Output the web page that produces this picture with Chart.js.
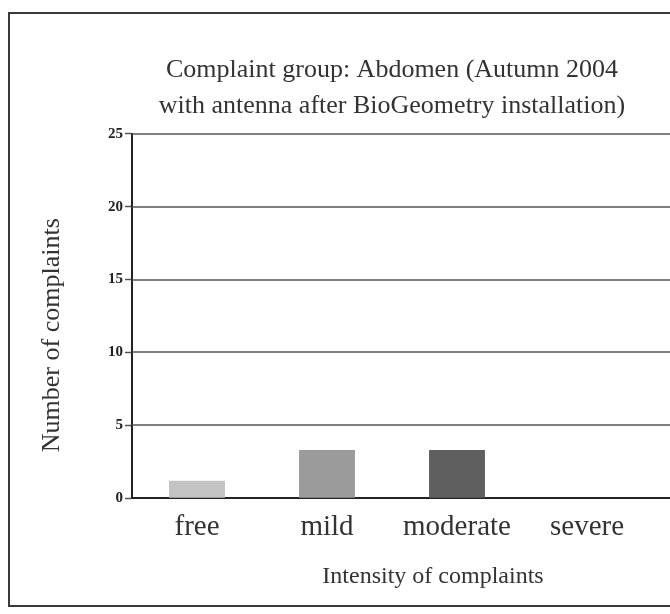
<!DOCTYPE html>
<html>
<head>
<meta charset="utf-8">
<script src="https://cdn.jsdelivr.net/npm/chart.js@4/dist/chart.umd.min.js"></script>
<style>
  html, body { margin: 0; padding: 0; background: #fff; overflow: hidden; }
  #frame { position: absolute; left: 8px; top: 12px; width: 700px; height: 591px; border: 2px solid #3a3a3a; }
  #chart { position: absolute; left: 0; top: 0; }
</style>
</head>
<body>
<div id="frame"></div>
<canvas id="chart" width="670" height="614"></canvas>
<script>
// Chart data
const categories = ["free", "mild", "moderate", "severe"];
const complaints = [1.2, 3.3, 3.3, 0];
const barColors = ["#c3c3c3", "#9b9b9b", "#5f5f5f", "#303030"];
const yTicks = [0, 5, 10, 15, 20, 25];
const xTitle = "Intensity of complaints";
const yTitle = "Number of complaints";

const serif = "'Liberation Serif', 'Times New Roman', serif";

// Grid lines in the picture run on past the right edge of the plot,
// so they are drawn here, under the bars
const gridLines = {
  id: "gridLines",
  beforeDatasetsDraw(chart) {
    const { ctx, chartArea, scales } = chart;
    ctx.save();
    yTicks.forEach((v) => {
      const y = Math.round(scales.y.getPixelForValue(v));
      ctx.strokeStyle = v === 0 ? "#222" : "#555";
      ctx.lineWidth = v === 0 ? 2 : 1.5;
      ctx.beginPath();
      ctx.moveTo(chartArea.left, y);
      ctx.lineTo(chart.width, y);
      ctx.stroke();
    });
    ctx.restore();
  },
};

// Axis titles sit off-centre in the picture
const axisTitles = {
  id: "axisTitles",
  afterDraw(chart) {
    const { ctx, chartArea } = chart;
    ctx.save();
    ctx.fillStyle = "#333";
    ctx.textAlign = "center";
    ctx.textBaseline = "middle";
    ctx.font = "24px " + serif;
    ctx.fillText(xTitle, chartArea.left + 301, chartArea.bottom + 79);

    ctx.font = "26px " + serif;
    ctx.translate(52, chartArea.bottom - 163);
    ctx.rotate(-Math.PI / 2);
    ctx.fillText(yTitle, 0, 0);
    ctx.restore();
  },
};

const chart = new Chart(document.getElementById("chart"), {
  type: "bar",
  data: {
    labels: categories,
    datasets: [
      {
        data: complaints,
        backgroundColor: barColors,
        borderWidth: 0,
        barPercentage: 0.43,
        categoryPercentage: 1,
      },
    ],
  },
  options: {
    responsive: false,
    animation: false,
    layout: { padding: { left: 30, right: 18, top: 0, bottom: 65 } },
    plugins: {
      legend: { display: false },
      tooltip: { enabled: false },
      title: {
        display: true,
        fullSize: false,
        text: ["Complaint group: Abdomen (Autumn 2004", "with antenna after BioGeometry installation)"],
        color: "#333",
        font: { family: serif, size: 26, weight: "normal", lineHeight: 1.38 },
        padding: { top: 52, bottom: 10 },
      },
    },
    scales: {
      x: {
        grid: { display: false },
        border: { display: true, color: "#222", width: 2 },
        ticks: { color: "#333", font: { family: serif, size: 29 }, padding: 4 },
      },
      y: {
        min: 0,
        max: 25,
        afterFit: (scale) => { scale.width = 102; },
        ticks: {
          stepSize: 5,
          color: "#222",
          font: { family: serif, size: 15, weight: "bold" },
          padding: 2,
        },
        grid: { drawOnChartArea: false, tickLength: 7, tickColor: "#555", tickWidth: 1.5 },
        border: { display: true, color: "#222", width: 2 },
      },
    },
  },
  plugins: [gridLines, axisTitles],
});
</script>
</body>
</html>
